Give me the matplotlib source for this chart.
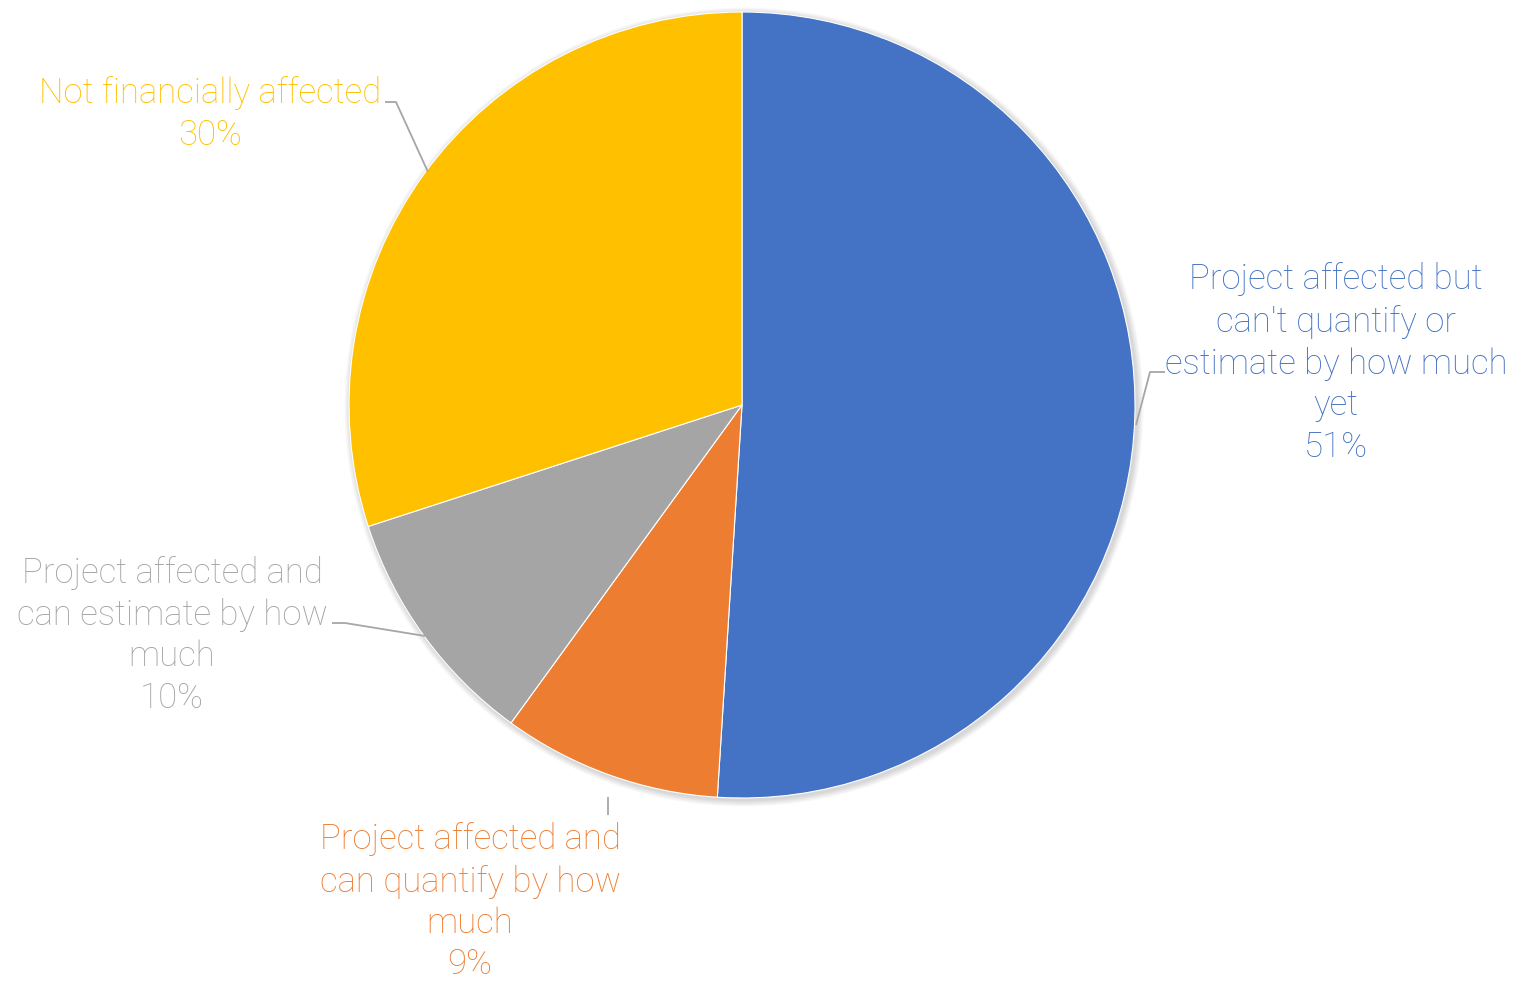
import matplotlib.pyplot as plt
from matplotlib.patches import Circle

categories = [
    "Project affected but\ncan't quantify or\nestimate by how much\nyet",
    "Project affected and\ncan quantify by how\nmuch",
    "Project affected and\ncan estimate by how\nmuch",
    "Not financially affected",
]
shares = [51, 9, 10, 30]
colors = ["#4472C4", "#ED7D31", "#A5A5A5", "#FFC000"]

# label anchor (text centre, pixels from top-left) and leader-line path
label_pos = [(1336, 363), (470, 902), (172, 635), (210, 114)]
leaders = [
    [(1136, 425), (1150, 372), (1165, 372)],
    [(608, 797), (608, 815)],
    [(425, 636), (345, 623), (332, 623)],
    [(428, 172), (396, 102), (385, 102)],
]

W, H = 1513, 983
fig = plt.figure(figsize=(W / 100, H / 100), dpi=100)
ax = fig.add_axes([0, 0, 1, 1])

cx, cy, r = 742, H - 405, 393

# soft drop shadow
for i in range(8):
    ax.add_patch(Circle((cx + 2, cy - 2), r + 1 + i * 0.8, color="black",
                        alpha=0.018, lw=0, zorder=0))

ax.pie(shares, colors=colors, startangle=90, counterclock=False,
       center=(cx, cy), radius=r, frame=True,
       wedgeprops=dict(linewidth=0.8, edgecolor="white"))
ax.set_xlim(0, W)
ax.set_ylim(0, H)
ax.set_aspect("equal")
ax.axis("off")

for cat, val, col, (tx, ty), path in zip(categories, shares, colors, label_pos, leaders):
    ax.text(tx, H - ty, f"{cat}\n{val}%", color=col, ha="center", va="center",
            fontsize=25, family="Roboto", fontweight="light", linespacing=1.3)
    xs = [p[0] for p in path]
    ys = [H - p[1] for p in path]
    ax.plot(xs, ys, color="#A6A6A6", lw=1.3, solid_capstyle="butt")

fig.savefig("out.png", dpi=100)
